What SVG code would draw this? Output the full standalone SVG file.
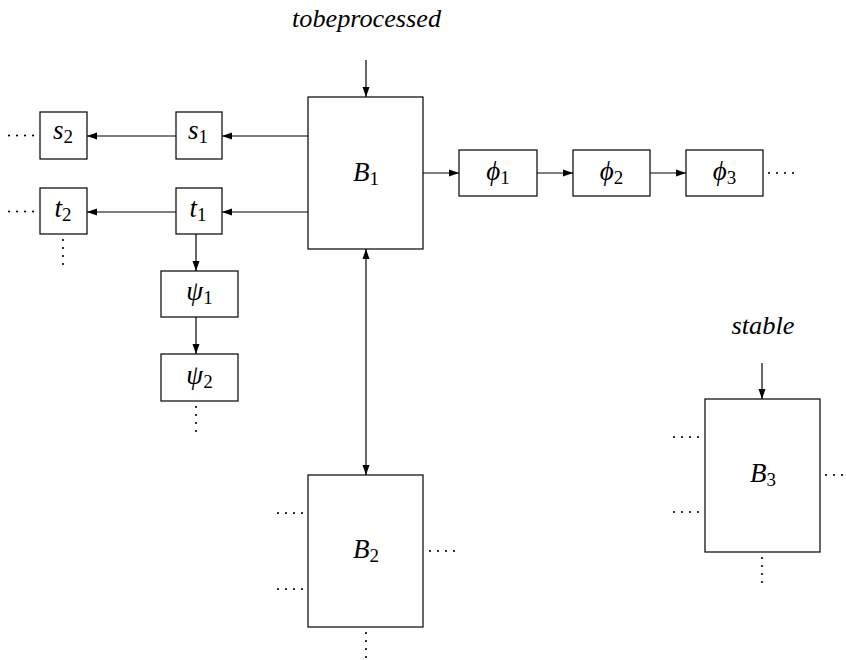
<svg xmlns="http://www.w3.org/2000/svg" xmlns:xlink="http://www.w3.org/1999/xlink" width="846" height="660" viewBox="0 0 846 660">
<style>
.box{fill:#fff;stroke:#000;stroke-width:1.2}
.lbl{font-family:"Liberation Serif","DejaVu Serif",serif;font-style:italic;font-size:27px;text-anchor:middle;fill:#000}
.sub{font-style:normal;font-size:19px}
.word{font-family:"Liberation Serif","DejaVu Serif",serif;font-style:italic;font-size:25px;text-anchor:middle;fill:#000}
.conn line{stroke:#000;stroke-width:1.2;fill:none}
.dot{fill:#000}
</style>
<defs>
<marker id="ah" markerUnits="userSpaceOnUse" markerWidth="10" markerHeight="8" refX="10" refY="4" orient="auto-start-reverse" viewBox="0 0 10 8">
<path d="M0,0.5 L10,4 L0,7.5 z" fill="#000"/>
</marker>
<g id="hd"><circle class="dot" cx="0" cy="0" r="1.1"/><circle class="dot" cx="8" cy="0" r="1.1"/><circle class="dot" cx="16" cy="0" r="1.1"/><circle class="dot" cx="24" cy="0" r="1.1"/></g>
<g id="vd"><circle class="dot" cx="0" cy="0" r="1.1"/><circle class="dot" cx="0" cy="8" r="1.1"/><circle class="dot" cx="0" cy="16" r="1.1"/><circle class="dot" cx="0" cy="24" r="1.1"/></g>
</defs>
<rect width="846" height="660" fill="#fff"/>

<g class="conn" id="connectors">
<line x1="366" y1="60" x2="366" y2="97" marker-end="url(#ah)"/>
<line x1="308" y1="136" x2="222" y2="136" marker-end="url(#ah)"/>
<line x1="176" y1="136" x2="87" y2="136" marker-end="url(#ah)"/>
<line x1="308" y1="212" x2="222" y2="212" marker-end="url(#ah)"/>
<line x1="176" y1="212" x2="87" y2="212" marker-end="url(#ah)"/>
<line x1="196" y1="234" x2="196" y2="271" marker-end="url(#ah)"/>
<line x1="196" y1="317" x2="196" y2="354" marker-end="url(#ah)"/>
<line x1="423" y1="173" x2="459" y2="173" marker-end="url(#ah)"/>
<line x1="537" y1="173" x2="573" y2="173" marker-end="url(#ah)"/>
<line x1="650" y1="173" x2="686" y2="173" marker-end="url(#ah)"/>
<line x1="366" y1="249" x2="366" y2="475" marker-start="url(#ah)" marker-end="url(#ah)"/>
<line x1="762" y1="363" x2="762" y2="399" marker-end="url(#ah)"/>
</g>

<text class="word" x="366.5" y="27" textLength="149" lengthAdjust="spacingAndGlyphs">tobeprocessed</text>
<text class="word" x="763" y="334" textLength="63" lengthAdjust="spacingAndGlyphs">stable</text>

<g id="B1"><rect class="box" x="308" y="97" width="115" height="152"/><text class="lbl" x="366" y="181">B<tspan class="sub" dy="4">1</tspan></text></g>
<g id="s1"><rect class="box" x="176" y="112" width="46" height="47"/><text class="lbl" x="198" y="139">s<tspan class="sub" dy="4">1</tspan></text></g>
<g id="s2"><rect class="box" x="40" y="112" width="47" height="47"/><text class="lbl" x="63" y="139">s<tspan class="sub" dy="4">2</tspan></text><use xlink:href="#hd" x="9" y="135.5"/></g>
<g id="t1"><rect class="box" x="176" y="188" width="46" height="46"/><text class="lbl" x="198" y="217">t<tspan class="sub" dy="4">1</tspan></text></g>
<g id="t2"><rect class="box" x="40" y="188" width="47" height="46"/><text class="lbl" x="63" y="217">t<tspan class="sub" dy="4">2</tspan></text><use xlink:href="#hd" x="9" y="211.5"/><use xlink:href="#vd" x="63" y="240"/></g>
<g id="psi1"><rect class="box" x="161" y="271" width="77" height="46"/><text class="lbl" x="199.5" y="300">ψ<tspan class="sub" dy="4">1</tspan></text></g>
<g id="psi2"><rect class="box" x="161" y="354" width="77" height="47"/><text class="lbl" x="199.5" y="384">ψ<tspan class="sub" dy="4">2</tspan></text><use xlink:href="#vd" x="196" y="407"/></g>
<g id="phi1"><rect class="box" x="459" y="150" width="78" height="46"/><text class="lbl" x="498" y="180">ϕ<tspan class="sub" dy="4">1</tspan></text></g>
<g id="phi2"><rect class="box" x="573" y="150" width="77" height="46"/><text class="lbl" x="611.5" y="180">ϕ<tspan class="sub" dy="4">2</tspan></text></g>
<g id="phi3"><rect class="box" x="686" y="150" width="77" height="46"/><text class="lbl" x="724.5" y="180">ϕ<tspan class="sub" dy="4">3</tspan></text><use xlink:href="#hd" x="769" y="173"/></g>
<g id="B2"><rect class="box" x="308" y="475" width="115" height="152"/><text class="lbl" x="366" y="558">B<tspan class="sub" dy="4">2</tspan></text><use xlink:href="#hd" x="278" y="513"/><use xlink:href="#hd" x="278" y="589"/><use xlink:href="#hd" x="430" y="551"/><use xlink:href="#vd" x="366" y="633"/></g>
<g id="B3"><rect class="box" x="705" y="399" width="115" height="153"/><text class="lbl" x="763" y="482">B<tspan class="sub" dy="4">3</tspan></text><use xlink:href="#hd" x="674" y="437"/><use xlink:href="#hd" x="674" y="512"/><use xlink:href="#hd" x="826" y="475"/><use xlink:href="#vd" x="762" y="558"/></g>
</svg>
